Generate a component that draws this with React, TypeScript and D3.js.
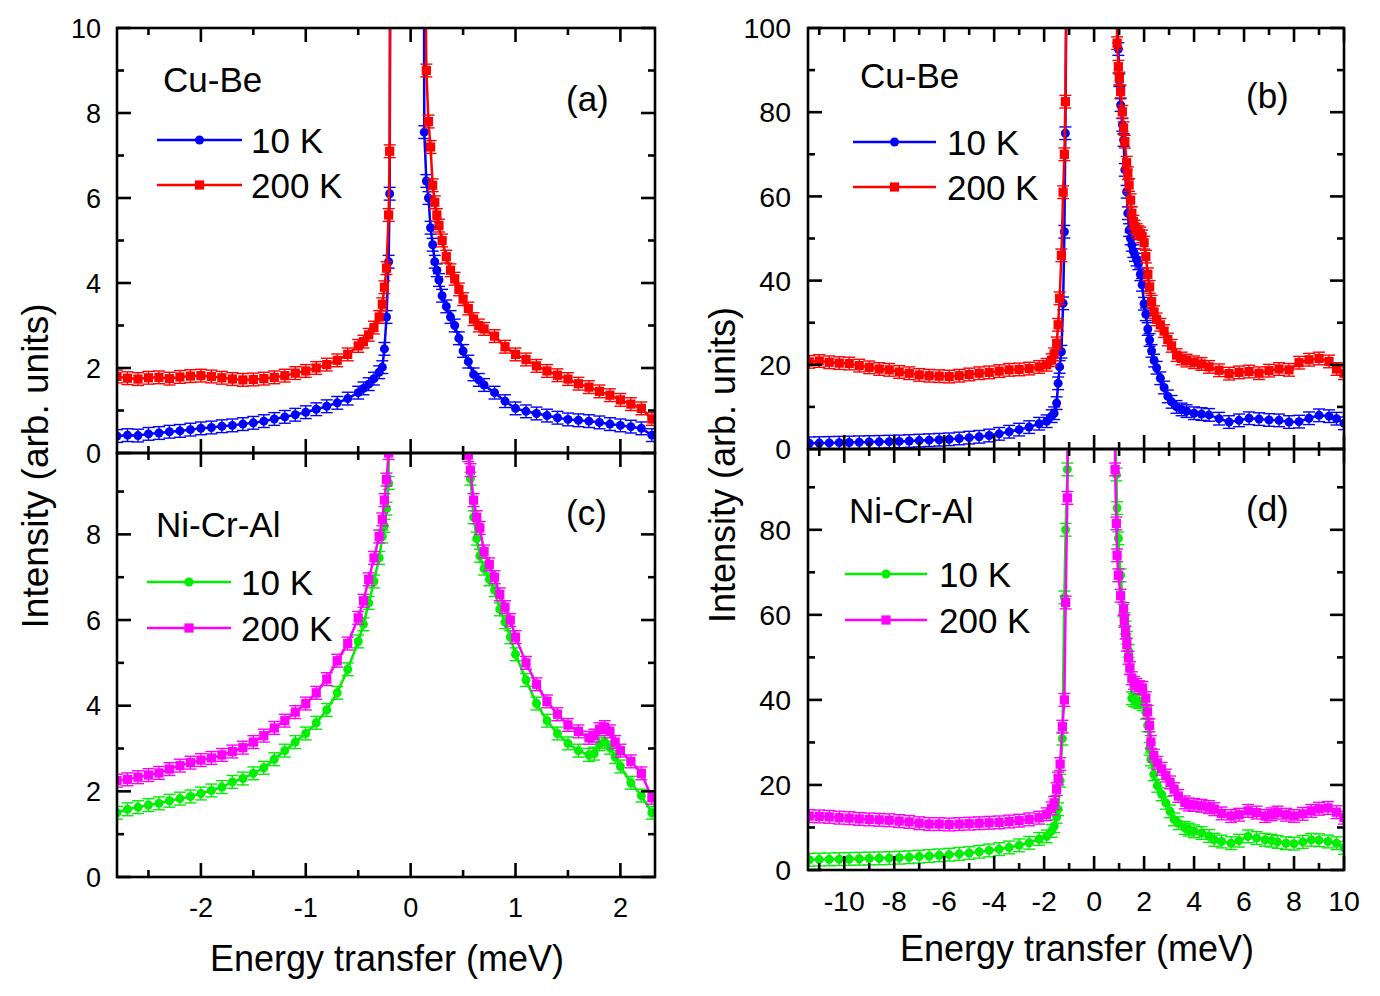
import React from "react";
import * as d3 from "d3";

// ---------------- Tick values ----------------
const leftXMajor = [-2, -1, 0, 1, 2];
const leftXMinor = [-2.5, -1.5, -0.5, 0.5, 1.5];
const rightXMajor = [-10, -8, -6, -4, -2, 0, 2, 4, 6, 8, 10];
const rightXMinor = [-11, -9, -7, -5, -3, -1, 1, 3, 5, 7, 9];
const aYMajor = [0, 2, 4, 6, 8, 10];
const aYMinor = [1, 3, 5, 7, 9];
const cYMajor = [0, 2, 4, 6, 8];
const cYMinor = [1, 3, 5, 7, 9];
const bYMajor = [0, 20, 40, 60, 80, 100];
const bYMinor = [10, 30, 50, 70, 90];
const dYMajor = [0, 20, 40, 60, 80];
const dYMinor = [10, 30, 50, 70, 90];

const alloyNames = ["Cu-Be", "Ni-Cr-Al"];
const seriesNames = ["10 K", "200 K"];
const panelTags = ["(a)", "(b)", "(c)", "(d)"];

// ---------------- Panel (a): Cu-Be, narrow window ----------------
const aE = [-2.8, -2.7, -2.6, -2.5, -2.4, -2.3, -2.2, -2.1, -2.0, -1.9, -1.8, -1.7, -1.6, -1.5, -1.4, -1.3, -1.2, -1.1, -1.0, -0.9, -0.8, -0.7, -0.6, -0.5,
  -0.45, -0.4, -0.35, -0.3, -0.27, -0.25, -0.23, -0.21, -0.2,
  0,
  0.13, 0.15, 0.17, 0.19, 0.21, 0.23, 0.25, 0.27, 0.3, 0.34, 0.38, 0.42, 0.46, 0.5, 0.55, 0.6, 0.65, 0.7,
  0.8, 0.9, 1.0, 1.1, 1.2, 1.3, 1.4, 1.5, 1.6, 1.7, 1.8, 1.9, 2.0, 2.1, 2.2, 2.3];
const a10K = [0.40, 0.42, 0.41, 0.45, 0.47, 0.50, 0.52, 0.55, 0.58, 0.60, 0.63, 0.65, 0.68, 0.71, 0.75, 0.80, 0.85, 0.90, 0.96, 1.03, 1.10, 1.18, 1.28, 1.42,
  1.52, 1.62, 1.75, 1.90, 2.02, 2.45, 3.20, 4.50, 6.10,
  200,
  7.55, 6.40, 6.00, 5.30, 4.90, 4.50, 4.30, 4.07, 3.70, 3.45, 3.20, 3.00, 2.70, 2.40, 2.15, 1.85, 1.72, 1.60,
  1.42, 1.22, 1.05, 0.98, 0.93, 0.88, 0.83, 0.79, 0.77, 0.75, 0.72, 0.68, 0.65, 0.62, 0.58, 0.42];
const a200K = [1.80, 1.76, 1.74, 1.77, 1.78, 1.75, 1.79, 1.81, 1.82, 1.80, 1.77, 1.74, 1.72, 1.73, 1.75, 1.78, 1.82, 1.88, 1.93, 2.00, 2.08, 2.18, 2.32, 2.52,
  2.62, 2.78, 2.95, 3.20, 3.50, 3.90, 4.35, 5.60, 7.10,
  250,
  14.0, 9.0, 7.8, 7.2, 6.3, 5.9, 5.6, 5.35, 5.0, 4.62, 4.3, 4.1, 3.85, 3.62, 3.4, 3.15, 3.0, 2.92,
  2.75, 2.5, 2.32, 2.2, 2.05, 1.93, 1.83, 1.74, 1.63, 1.55, 1.45, 1.36, 1.25, 1.15, 1.05, 0.80];

// ---------------- Panel (c): Ni-Cr-Al, narrow window ----------------
const cE = [-2.8, -2.7, -2.6, -2.5, -2.4, -2.3, -2.2, -2.1, -2.0, -1.9, -1.8, -1.7, -1.6, -1.5, -1.4, -1.3, -1.2, -1.1, -1.0, -0.9, -0.8, -0.7, -0.6, -0.5,
  -0.45, -0.4, -0.35, -0.3, -0.27, -0.25, -0.23, -0.21,
  0.17,
  0.55, 0.57, 0.6, 0.63, 0.66, 0.7, 0.75, 0.8, 0.85, 0.9, 0.95, 1.0,
  1.1, 1.2, 1.3, 1.4, 1.5, 1.6, 1.7,
  1.75, 1.8, 1.85, 1.9, 1.95, 2.0,
  2.1, 2.2, 2.3];
const c10K = [1.50, 1.58, 1.63, 1.68, 1.72, 1.78, 1.83, 1.88, 1.95, 2.02, 2.10, 2.22, 2.30, 2.42, 2.55, 2.75, 2.95, 3.15, 3.35, 3.60, 3.90, 4.30, 4.85, 5.50,
  5.90, 6.40, 6.90, 7.45, 7.95, 8.20, 8.60, 9.20,
  200,
  10.5, 9.3, 8.4, 7.9, 7.5, 7.2, 6.95, 6.7, 6.25, 5.95, 5.6, 5.2,
  4.6, 4.05, 3.65, 3.35, 3.12, 2.95, 2.85,
  2.88, 3.10, 3.15, 3.02, 2.80, 2.58,
  2.20, 1.90, 1.50];
const c200K = [2.25, 2.28, 2.33, 2.38, 2.43, 2.52, 2.60, 2.67, 2.73, 2.78, 2.85, 2.93, 3.02, 3.15, 3.30, 3.48, 3.65, 3.85, 4.05, 4.30, 4.62, 5.05, 5.45, 6.05,
  6.45, 6.95, 7.45, 7.95, 8.35, 8.80, 9.28, 9.90,
  200,
  9.85, 9.5, 8.8, 8.4, 8.15, 7.6, 7.3, 7.0, 6.6, 6.3, 6.0, 5.6,
  5.0, 4.5, 4.1, 3.8, 3.55, 3.4, 3.25,
  3.3, 3.45, 3.5, 3.4, 3.15, 2.95,
  2.7, 2.42, 1.85];

// ---------------- Panel (b): Cu-Be, wide window ----------------
const bE = [-11.4, -11.0, -10.6, -10.2, -9.8, -9.4, -9.0, -8.6, -8.2, -7.8, -7.4, -7.0, -6.6, -6.2, -5.8, -5.4, -5.0, -4.6, -4.2, -3.8, -3.4, -3.0, -2.6, -2.2,
  -1.9, -1.7, -1.6, -1.5, -1.44, -1.38, -1.31, -1.24, -1.19, -1.15,
  0,
  0.92, 0.97, 1.01, 1.06, 1.13, 1.18, 1.23, 1.3, 1.35, 1.4, 1.46, 1.51, 1.57, 1.63, 1.7, 1.77, 1.85, 1.92, 2.0, 2.07, 2.15, 2.22, 2.3,
  2.4, 2.5, 2.65, 2.8, 2.95, 3.1, 3.3, 3.5, 3.7, 4.0, 4.3, 4.6, 5.0,
  5.4, 5.8, 6.2, 6.6, 7.0, 7.4, 7.8, 8.2, 8.6, 9.0, 9.4, 9.7, 10.0];
const b10K = [1.35, 1.40, 1.45, 1.50, 1.55, 1.60, 1.65, 1.70, 1.75, 1.80, 1.90, 2.00, 2.10, 2.20, 2.30, 2.50, 2.70, 2.90, 3.20, 3.60, 4.10, 4.60, 5.20, 6.00,
  6.6, 7.8, 8.5, 10.9, 15.6, 19.5, 23.1, 34.6, 51.6, 75,
  1000,
  105, 95, 87.6, 81.7, 77, 73.4, 66.3, 61.1, 56, 52, 50, 48.5, 47, 46.1, 45, 44.1, 41.5, 39, 34.5, 32, 28.5, 25.9, 23.3,
  21, 19.3, 16.8, 14.6, 12.5, 11.2, 10.0, 9.4, 9.0, 8.5, 8.3, 8.1, 7.2,
  6.4, 6.8, 7.3, 7.1, 6.9, 6.8, 6.4, 6.5, 7.3, 8.0, 7.8, 7.2, 6.1];
const b200K = [20.7, 20.9, 20.6, 20.4, 20.3, 19.8, 19.4, 19.0, 18.8, 18.3, 18.0, 17.6, 17.4, 17.3, 17.2, 17.4, 17.7, 18.0, 18.2, 18.5, 18.8, 18.9, 19.1, 19.5,
  20.0, 21.1, 22.5, 25.1, 29.5, 35.8, 46, 61, 70, 82.5,
  1000,
  96.4, 90.8, 88, 84.9, 80.1, 76.2, 73, 68, 65.5, 62.7, 59.1, 56, 54, 52.8, 52, 51.5, 51.2, 50.5, 49, 45.7, 41.5, 38.5, 35,
  32.5, 30.8, 29.5, 28, 26, 24.5, 22.3, 21.5, 21.0, 20.6, 20.2, 19.5, 18.7,
  17.9, 18.2, 18.4, 18.0, 18.6, 19.0, 18.8, 20.5, 21.2, 21.5, 20.8, 19.0, 18.0];

// ---------------- Panel (d): Ni-Cr-Al, wide window ----------------
const dE = [-11.4, -11.0, -10.6, -10.2, -9.8, -9.4, -9.0, -8.6, -8.2, -7.8, -7.4, -7.0, -6.6, -6.2, -5.8, -5.4, -5.0, -4.6, -4.2, -3.8, -3.4, -3.0, -2.6, -2.2,
  -1.9, -1.7, -1.6, -1.5, -1.44, -1.36, -1.27, -1.19, -1.14, -1.07,
  0,
  0.84, 0.89, 0.92, 0.97, 1.06, 1.18, 1.21, 1.26, 1.31, 1.38, 1.43, 1.51, 1.6, 1.69, 1.8, 1.94,
  2.07, 2.14, 2.22, 2.27, 2.39, 2.53, 2.7, 2.87, 3.04, 3.2, 3.37, 3.63, 3.79,
  4.0, 4.3, 4.6, 4.81, 5.1, 5.48, 5.8, 6.16, 6.5, 6.84,
  7.1, 7.34, 7.68, 8.0, 8.35, 8.69, 9.0, 9.36, 9.7, 10.0];
const d10K = [2.40, 2.45, 2.50, 2.55, 2.60, 2.65, 2.70, 2.75, 2.80, 2.90, 3.00, 3.15, 3.30, 3.45, 3.60, 3.80, 4.00, 4.30, 4.60, 4.90, 5.30, 5.80, 6.40, 7.30,
  7.9, 9.2, 10.3, 12.5, 14.3, 21, 30.9, 64.1, 80, 94.2,
  1000,
  104, 93, 85.1, 78, 69.3, 61, 59, 57, 54.6, 51.5, 47.5, 40.4, 40, 39.8, 39.5, 39,
  37, 34, 28.5, 26, 22.5, 19.8, 17.8, 15.8, 13.8, 11.9, 11.0, 9.9, 9.5,
  9.1, 8.7, 8.0, 7.1, 6.7, 6.3, 6.9, 7.9, 7.5, 7.1,
  6.9, 6.6, 6.3, 6.2, 6.6, 7.1, 7.0, 6.7, 6.3, 5.2];
const d200K = [12.7, 12.6, 12.5, 12.3, 12.2, 12.0, 11.9, 11.8, 11.7, 11.5, 11.3, 11.0, 10.8, 10.8, 10.7, 10.8, 10.9, 11.0, 11.1, 11.2, 11.4, 11.6, 11.9, 12.3,
  13.1, 14.5, 15.8, 19.0, 21.5, 24.9, 33.7, 40, 62.9, 87.5,
  1000,
  94.2, 81.5, 74, 69.3, 64.5, 61.4, 58.6, 55.8, 53, 49.9, 47.5, 45.1, 44, 43.5, 43, 42.8,
  40.4, 37.2, 34, 30.1, 26.9, 25.2, 23.8, 22.2, 20.6, 19.0, 17.4, 15.9, 15.4,
  15.3, 15.1, 14.8, 14.3, 13.3, 12.7, 13.0, 13.9, 13.5, 12.7,
  13.1, 13.5, 13.0, 12.7, 13.2, 13.9, 14.4, 14.6, 13.6, 12.3];

// error-bar half widths (intensity units) per panel
const errorBars = [0.15, 1.5, 0.15, 1.5];

// ---------------- Styling ----------------
const FONT = "Arial, 'Liberation Sans', Helvetica, sans-serif";
const BLUE = "#0000ff";
const RED = "#ff0000";
const GREEN = "#00ee00";
const MAGENTA = "#ff00ff";

type Panel = {
  key: string;
  x0: number; x1: number; y0: number; y1: number;
  xDomain: [number, number]; yDomain: [number, number];
  xMajor: number[]; xMinor: number[]; yMajor: number[]; yMinor: number[];
  yLabels: number[]; showXLabels: boolean; tickFont: number; yLabelRight: number; xLabelBase: number;
  E: number[]; low: number[]; high: number[]; lowColor: string; highColor: string; err: number;
  alloy: string; alloyX: number; alloyY: number; tag: string; tagX: number; tagY: number;
  legX0: number; legX1: number; legY: [number, number]; legTextX: number;
};

const panels: Panel[] = [
  {
    key: "a", x0: 117, x1: 655, y0: 28, y1: 453, xDomain: [-2.8, 2.33], yDomain: [0, 10],
    xMajor: leftXMajor, xMinor: leftXMinor, yMajor: aYMajor, yMinor: aYMinor,
    yLabels: aYMajor, showXLabels: false, tickFont: 27, yLabelRight: 101, xLabelBase: 917,
    E: aE, low: a10K, high: a200K, lowColor: BLUE, highColor: RED, err: errorBars[0],
    alloy: alloyNames[0], alloyX: 163, alloyY: 92, tag: panelTags[0], tagX: 566, tagY: 111,
    legX0: 157, legX1: 242, legY: [140, 185], legTextX: 251,
  },
  {
    key: "b", x0: 808, x1: 1344, y0: 28, y1: 449, xDomain: [-11.45, 10], yDomain: [0, 100],
    xMajor: rightXMajor, xMinor: rightXMinor, yMajor: bYMajor, yMinor: bYMinor,
    yLabels: bYMajor, showXLabels: false, tickFont: 28.5, yLabelRight: 791, xLabelBase: 911,
    E: bE, low: b10K, high: b200K, lowColor: BLUE, highColor: RED, err: errorBars[1],
    alloy: alloyNames[0], alloyX: 860, alloyY: 88, tag: panelTags[1], tagX: 1246, tagY: 108,
    legX0: 853, legX1: 936, legY: [142, 187], legTextX: 947,
  },
  {
    key: "c", x0: 117, x1: 655, y0: 453, y1: 877, xDomain: [-2.8, 2.33], yDomain: [0, 9.9],
    xMajor: leftXMajor, xMinor: leftXMinor, yMajor: cYMajor, yMinor: cYMinor,
    yLabels: cYMajor, showXLabels: true, tickFont: 27, yLabelRight: 101, xLabelBase: 917,
    E: cE, low: c10K, high: c200K, lowColor: GREEN, highColor: MAGENTA, err: errorBars[2],
    alloy: alloyNames[1], alloyX: 156, alloyY: 537, tag: panelTags[2], tagX: 566, tagY: 525,
    legX0: 147, legX1: 231, legY: [582, 628], legTextX: 241,
  },
  {
    key: "d", x0: 808, x1: 1344, y0: 449, y1: 870, xDomain: [-11.45, 10], yDomain: [0, 99],
    xMajor: rightXMajor, xMinor: rightXMinor, yMajor: dYMajor, yMinor: dYMinor,
    yLabels: dYMajor, showXLabels: true, tickFont: 28.5, yLabelRight: 791, xLabelBase: 911,
    E: dE, low: d10K, high: d200K, lowColor: GREEN, highColor: MAGENTA, err: errorBars[3],
    alloy: alloyNames[1], alloyX: 849, alloyY: 523, tag: panelTags[3], tagX: 1246, tagY: 521,
    legX0: 845, legX1: 927, legY: [574, 620], legTextX: 939,
  },
];

const MAJOR = 14;
const MINOR = 7;
const AXW = 2.6;

function Marker({ cx, cy, shape, color }: { cx: number; cy: number; shape: "circle" | "square"; color: string }) {
  if (shape === "circle") return <circle cx={cx} cy={cy} r={4.5} fill={color} />;
  return <rect x={cx - 4.6} y={cy - 4.6} width={9.2} height={9.2} fill={color} />;
}

function Series({ E, I, x, y, color, shape, err }: {
  E: number[]; I: number[]; x: d3.ScaleLinear<number, number>; y: d3.ScaleLinear<number, number>;
  color: string; shape: "circle" | "square"; err: number;
}) {
  const line = d3.line<number>().x((_, i) => x(E[i])).y((d) => y(d));
  const cap = 6;
  return (
    <g>
      <path d={line(I) || ""} fill="none" stroke={color} strokeWidth={2.5} />
      {I.map((v, i) => {
        const px = x(E[i]);
        const ya = y(v - err);
        const yb = y(v + err);
        return (
          <g key={"e" + i} stroke={color} strokeWidth={1.4}>
            <line x1={px} x2={px} y1={ya} y2={yb} />
            <line x1={px - cap} x2={px + cap} y1={ya} y2={ya} />
            <line x1={px - cap} x2={px + cap} y1={yb} y2={yb} />
          </g>
        );
      })}
      {I.map((v, i) => (
        <Marker key={"m" + i} cx={x(E[i])} cy={y(v)} shape={shape} color={color} />
      ))}
    </g>
  );
}

function PanelView({ p }: { p: Panel }) {
  const x = d3.scaleLinear().domain(p.xDomain).range([p.x0, p.x1]);
  const y = d3.scaleLinear().domain(p.yDomain).range([p.y1, p.y0]);
  const clipId = "clip-" + p.key;
  const inX = (v: number) => v >= p.xDomain[0] - 1e-9 && v <= p.xDomain[1] + 1e-9;
  const inY = (v: number) => v >= p.yDomain[0] - 1e-9 && v <= p.yDomain[1] + 1e-9;
  const ticks: JSX.Element[] = [];
  const addX = (vals: number[], len: number, tag: string) => {
    vals.filter(inX).forEach((v, i) => {
      const px = x(v);
      ticks.push(<line key={`xb${tag}${i}`} x1={px} x2={px} y1={p.y1} y2={p.y1 - len} />);
      ticks.push(<line key={`xt${tag}${i}`} x1={px} x2={px} y1={p.y0} y2={p.y0 + len} />);
    });
  };
  const addY = (vals: number[], len: number, tag: string) => {
    vals.filter(inY).forEach((v, i) => {
      const py = y(v);
      ticks.push(<line key={`yl${tag}${i}`} x1={p.x0} x2={p.x0 + len} y1={py} y2={py} />);
      ticks.push(<line key={`yr${tag}${i}`} x1={p.x1} x2={p.x1 - len} y1={py} y2={py} />);
    });
  };
  addX(p.xMajor, MAJOR, "M");
  addX(p.xMinor, MINOR, "m");
  addY(p.yMajor, MAJOR, "M");
  addY(p.yMinor, MINOR, "m");

  const legendEntries = [
    { name: seriesNames[0], color: p.lowColor, shape: "circle" as const, ly: p.legY[0] },
    { name: seriesNames[1], color: p.highColor, shape: "square" as const, ly: p.legY[1] },
  ];
  const mid = (p.legX0 + p.legX1) / 2;

  return (
    <g>
      <defs>
        <clipPath id={clipId}>
          <rect x={p.x0} y={p.y0} width={p.x1 - p.x0} height={p.y1 - p.y0} />
        </clipPath>
      </defs>
      <g clipPath={`url(#${clipId})`}>
        <Series E={p.E} I={p.low} x={x} y={y} color={p.lowColor} shape="circle" err={p.err} />
        <Series E={p.E} I={p.high} x={x} y={y} color={p.highColor} shape="square" err={p.err} />
      </g>
      <rect x={p.x0} y={p.y0} width={p.x1 - p.x0} height={p.y1 - p.y0} fill="none" stroke="#000" strokeWidth={AXW} />
      <g stroke="#000" strokeWidth={AXW}>{ticks}</g>
      <g fontFamily={FONT} fontSize={p.tickFont} fill="#000">
        {p.yLabels.map((v) => (
          <text key={"yl" + v} x={p.yLabelRight} y={y(v) + p.tickFont * 0.36} textAnchor="end">{v}</text>
        ))}
        {p.showXLabels &&
          p.xMajor.map((v) => (
            <text key={"xl" + v} x={x(v)} y={p.xLabelBase} textAnchor="middle">{v}</text>
          ))}
      </g>
      <g fontFamily={FONT} fill="#000">
        <text x={p.alloyX} y={p.alloyY} fontSize={35}>{p.alloy}</text>
        <text x={p.tagX} y={p.tagY} fontSize={35}>{p.tag}</text>
        {legendEntries.map((l) => (
          <g key={l.name}>
            <line x1={p.legX0} x2={p.legX1} y1={l.ly} y2={l.ly} stroke={l.color} strokeWidth={2.5} />
            <Marker cx={mid} cy={l.ly} shape={l.shape} color={l.color} />
            <text x={p.legTextX} y={l.ly + 12.5} fontSize={35}>{l.name}</text>
          </g>
        ))}
      </g>
    </g>
  );
}

export default function App() {
  return (
    <svg
      width={1380}
      height={996}
      viewBox="0 0 1380 996"
      style={{ position: "absolute", left: 0, top: 0, background: "#fff" }}
    >
      <rect x={0} y={0} width={1380} height={996} fill="#fff" />
      {panels.map((p) => (
        <PanelView key={p.key} p={p} />
      ))}
      <g fontFamily={FONT} fill="#000" fontSize={36}>
        <text x={387} y={971} textAnchor="middle">Energy transfer (meV)</text>
        <text x={1077} y={961} textAnchor="middle">Energy transfer (meV)</text>
        <text transform="translate(48,466) rotate(-90)" textAnchor="middle" fontSize={37}>Intensity (arb. units)</text>
        <text transform="translate(735,465) rotate(-90)" textAnchor="middle">Intensity (arb. units)</text>
      </g>
    </svg>
  );
}
